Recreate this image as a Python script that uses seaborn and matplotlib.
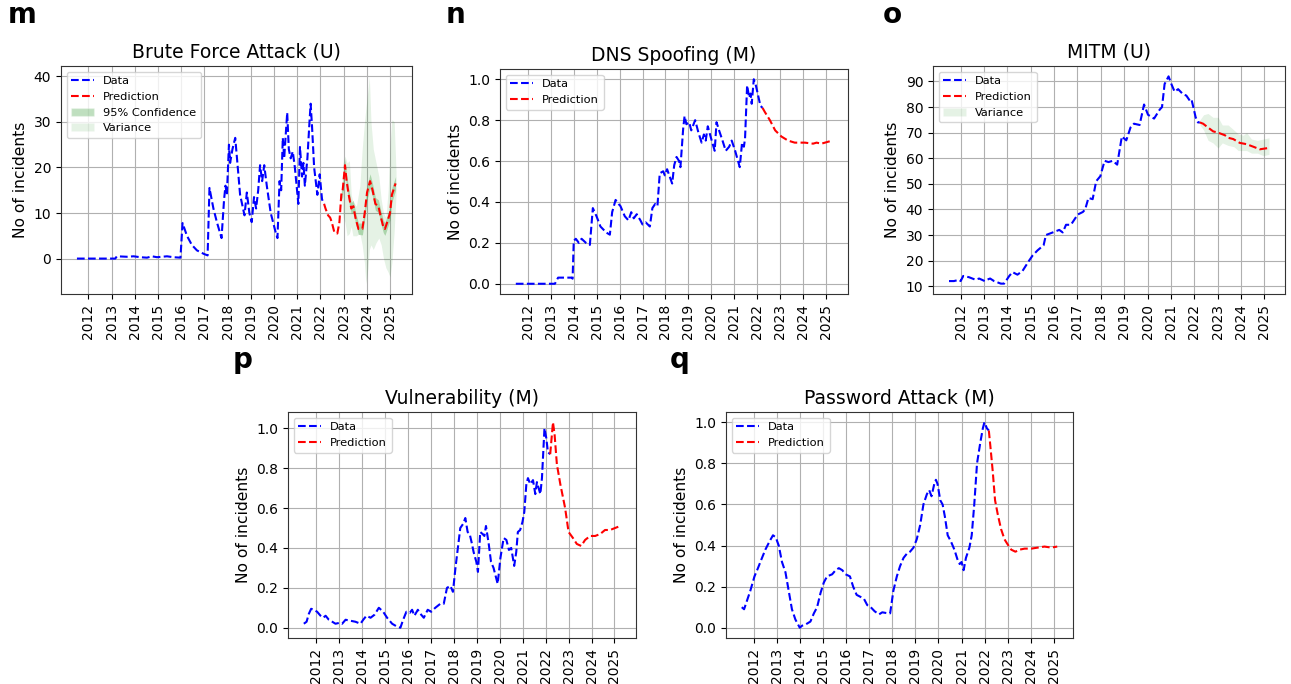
import matplotlib
matplotlib.use("Agg")
import matplotlib.pyplot as plt
import seaborn as sns
import numpy as np
from matplotlib.patches import Patch
from matplotlib.lines import Line2D

sns.set_style("ticks")
plt.rcParams["font.family"] = ["DejaVu Sans"]
plt.rcParams["text.color"] = "black"
plt.rcParams["axes.labelcolor"] = "black"
plt.rcParams["xtick.color"] = "black"
plt.rcParams["ytick.color"] = "black"

YEARS = list(range(2012, 2026))

# ---------------- m : Brute Force Attack (U) ----------------
m_data_x = [2011.51, 2013.16, 2013.23, 2013.66, 2013.95, 2014.24, 2014.53, 2014.74, 2014.96, 2015.39,
            2015.67, 2015.97, 2016.06, 2016.25, 2016.46, 2016.68, 2016.99, 2017.14, 2017.22, 2017.39,
            2017.54, 2017.74, 2017.85, 2017.91, 2017.97, 2018.06, 2018.11, 2018.21, 2018.33, 2018.44,
            2018.54, 2018.73, 2018.83, 2018.94, 2019.04, 2019.14, 2019.23, 2019.32, 2019.40, 2019.49,
            2019.58, 2019.69, 2019.86, 2020.06, 2020.15, 2020.24, 2020.31, 2020.38, 2020.44, 2020.49,
            2020.57, 2020.64, 2020.72, 2020.81, 2020.90, 2021.05, 2021.12, 2021.21, 2021.27, 2021.33,
            2021.44, 2021.53, 2021.58, 2021.64, 2021.73, 2021.87, 2021.97, 2022.07, 2022.16]
m_data_y = [0.0, 0.0, 0.5, 0.4, 0.5, 0.3, 0.2, 0.5, 0.3, 0.5,
            0.3, 0.2, 7.8, 5.0, 3.0, 1.8, 1.0, 0.7, 15.5, 11.0,
            8.0, 4.5, 13.0, 16.0, 14.0, 25.0, 21.0, 24.0, 26.5, 20.0,
            14.0, 9.5, 14.5, 10.0, 8.0, 13.5, 11.0, 15.0, 20.5, 17.0,
            20.5, 16.0, 10.0, 6.0, 4.5, 17.0, 15.0, 26.5, 22.0, 26.0,
            32.0, 24.0, 22.0, 23.5, 20.0, 12.0, 24.5, 18.0, 21.0, 16.0,
            22.0, 30.0, 34.0, 29.0, 20.0, 14.0, 18.5, 13.0, 12.0]
m_pred_x = [2022.16, 2022.22, 2022.33, 2022.42, 2022.49, 2022.60, 2022.73, 2022.82, 2022.90, 2022.96,
            2023.06, 2023.13, 2023.22, 2023.33, 2023.42, 2023.51, 2023.64, 2023.81, 2023.91, 2024.01,
            2024.14, 2024.25, 2024.37, 2024.50, 2024.61, 2024.71, 2024.78, 2024.88, 2025.00, 2025.08,
            2025.24]
m_pred_y = [12.0, 11.0, 9.5, 9.0, 8.0, 5.8, 5.5, 8.0, 14.0, 15.0,
            20.5, 17.0, 14.0, 11.0, 11.5, 9.0, 6.5, 6.5, 10.0, 14.5,
            17.0, 15.0, 12.0, 11.5, 9.0, 7.0, 6.5, 8.0, 10.0, 14.0,
            16.5]
m_conf_x = [2022.90, 2022.96, 2023.06, 2023.13, 2023.22, 2023.33, 2023.42, 2023.51, 2023.64, 2023.81,
            2023.91, 2024.01, 2024.14, 2024.25, 2024.37, 2024.50, 2024.61, 2024.71, 2024.78, 2024.88,
            2025.00, 2025.08, 2025.24]
m_conf_lo = [12.8, 13.6, 19.0, 15.6, 12.6, 9.8, 10.2, 7.8, 5.3, 5.2,
             8.6, 13.0, 15.4, 13.6, 10.6, 10.1, 7.6, 5.7, 5.1, 6.6,
             8.5, 12.4, 15.0]
m_conf_hi = [15.3, 16.4, 21.9, 18.4, 15.4, 12.3, 12.8, 10.3, 7.8, 7.8,
             11.4, 16.0, 18.6, 16.4, 13.4, 12.9, 10.4, 8.4, 7.9, 9.4,
             11.6, 15.6, 18.0]
m_var_x = [2022.92, 2022.98, 2023.06, 2023.15, 2023.25, 2023.33, 2023.40, 2023.55, 2023.70, 2023.80,
           2023.90, 2023.96, 2024.05, 2024.11, 2024.18, 2024.28, 2024.40, 2024.52, 2024.62, 2024.72,
           2024.82, 2024.92, 2025.00, 2025.08, 2025.18, 2025.26]
m_var_lo = [13, 9, 8, 5, 5.5, 7, 5, 5, 5.5, 3,
            -1, -5.5, -2, 2, 3, 2, 3.5, 4.5, 3, 0,
            -2, -3, -4, -1, 6, 14]
m_var_hi = [15, 21, 22.5, 21, 21.5, 14, 12.5, 11.5, 16, 24,
            30, 33, 37, 40, 30, 24, 21, 18, 13, 10,
            9, 15, 25, 30.5, 30, 19]

# ---------------- n : DNS Spoofing (M) ----------------
n_data_x = [2011.49, 2013.19, 2013.33, 2013.91, 2013.96, 2014.01, 2014.10, 2014.23, 2014.35, 2014.54,
            2014.71, 2014.84, 2015.00, 2015.17, 2015.43, 2015.58, 2015.68, 2015.83, 2015.96, 2016.04,
            2016.23, 2016.39, 2016.51, 2016.62, 2016.75, 2016.91, 2017.00, 2017.14, 2017.32, 2017.43,
            2017.55, 2017.65, 2017.75, 2017.90, 2017.97, 2018.07, 2018.29, 2018.38, 2018.48, 2018.59,
            2018.65, 2018.77, 2018.83, 2018.91, 2019.03, 2019.12, 2019.29, 2019.43, 2019.57, 2019.67,
            2019.75, 2019.84, 2019.96, 2020.14, 2020.22, 2020.33, 2020.48, 2020.62, 2020.77, 2020.88,
            2021.03, 2021.23, 2021.33, 2021.41, 2021.46, 2021.55, 2021.64, 2021.70, 2021.75, 2021.84,
            2021.93, 2022.01, 2022.13, 2022.22]
n_data_y = [0.0, 0.0, 0.03, 0.03, 0.025, 0.21, 0.22, 0.20, 0.22, 0.20,
            0.19, 0.37, 0.33, 0.28, 0.25, 0.24, 0.35, 0.41, 0.39, 0.38,
            0.33, 0.31, 0.35, 0.32, 0.34, 0.31, 0.29, 0.30, 0.28, 0.37,
            0.39, 0.38, 0.54, 0.55, 0.53, 0.56, 0.49, 0.58, 0.62, 0.60,
            0.57, 0.76, 0.82, 0.78, 0.79, 0.75, 0.80, 0.74, 0.69, 0.73,
            0.70, 0.77, 0.72, 0.65, 0.79, 0.75, 0.70, 0.65, 0.67, 0.70,
            0.65, 0.57, 0.69, 0.67, 0.71, 0.97, 0.91, 0.93, 0.88, 1.00,
            0.97, 0.93, 0.87, 0.86]
n_pred_x = [2022.22, 2022.32, 2022.54, 2022.77, 2023.04, 2023.33, 2023.62, 2024.06, 2024.42, 2024.57,
            2024.78, 2025.25]
n_pred_y = [0.86, 0.84, 0.80, 0.75, 0.72, 0.70, 0.69, 0.69, 0.685, 0.69,
            0.685, 0.70]

# ---------------- o : MITM (U) ----------------
o_data_x = [2011.50, 2011.71, 2011.93, 2012.00, 2012.11, 2012.36, 2012.64, 2012.79, 2013.03, 2013.12,
            2013.26, 2013.43, 2013.72, 2013.86, 2014.08, 2014.22, 2014.43, 2014.65, 2014.93, 2015.08,
            2015.29, 2015.55, 2015.65, 2015.94, 2016.22, 2016.37, 2016.51, 2016.72, 2017.01, 2017.23,
            2017.33, 2017.47, 2017.65, 2017.80, 2017.98, 2018.16, 2018.33, 2018.51, 2018.70, 2018.90,
            2019.09, 2019.27, 2019.42, 2019.66, 2019.85, 2020.02, 2020.28, 2020.52, 2020.62, 2020.73,
            2020.90, 2021.02, 2021.16, 2021.31, 2021.52, 2021.66, 2021.81, 2021.88, 2021.96, 2022.06,
            2022.16, 2022.24]
o_data_y = [12.0, 12.0, 12.5, 12.0, 14.0, 13.5, 12.5, 13.0, 12.0, 12.5,
            13.0, 12.0, 11.0, 11.0, 14.0, 15.5, 14.5, 16.0, 20.0, 22.0,
            24.0, 26.0, 30.0, 31.0, 32.0, 31.0, 34.0, 34.0, 38.0, 39.0,
            40.0, 44.5, 44.0, 51.0, 53.0, 59.0, 58.5, 59.0, 57.5, 68.5,
            67.0, 72.0, 73.5, 73.0, 81.0, 77.0, 75.5, 79.0, 80.0, 89.0,
            92.0, 89.0, 86.0, 87.0, 85.0, 84.5, 82.5, 83.0, 80.0, 76.0,
            74.0, 74.0]
o_pred_x = [2022.24, 2022.38, 2022.59, 2022.81, 2023.02, 2023.31, 2023.45, 2023.67, 2023.95, 2024.24,
            2024.53, 2024.81, 2025.17]
o_pred_y = [74.0, 73.5, 72.0, 70.5, 70.0, 69.0, 68.0, 67.5, 66.0, 65.5,
            64.5, 63.5, 64.0]
o_var_x = [2022.24, 2022.40, 2022.59, 2022.80, 2023.02, 2023.20, 2023.45, 2023.70, 2023.88, 2024.10,
           2024.24, 2024.45, 2024.70, 2024.96, 2025.20]
o_var_lo = [73, 71, 67, 66, 64, 66, 65, 64.5, 63, 63, 63, 62, 62, 61, 61.5]
o_var_hi = [75, 77, 77.5, 76, 76, 73, 73, 71, 69.5, 69, 70, 67.5, 67, 67.5, 68]

# ---------------- p : Vulnerability (M) ----------------
p_data_x = [2011.46, 2011.58, 2011.68, 2011.78, 2011.90, 2012.04, 2012.19, 2012.30, 2012.41, 2012.55,
            2012.70, 2012.84, 2013.03, 2013.13, 2013.28, 2013.49, 2013.71, 2013.93, 2014.05, 2014.19,
            2014.37, 2014.54, 2014.73, 2014.92, 2015.09, 2015.31, 2015.53, 2015.67, 2015.79, 2015.93,
            2016.08, 2016.18, 2016.28, 2016.43, 2016.54, 2016.69, 2016.86, 2017.01, 2017.19, 2017.41,
            2017.56, 2017.70, 2017.85, 2017.96, 2018.07, 2018.28, 2018.40, 2018.50, 2018.60, 2018.69,
            2018.79, 2018.86, 2018.98, 2019.05, 2019.15, 2019.25, 2019.33, 2019.40, 2019.52, 2019.62,
            2019.73, 2019.91, 2020.03, 2020.17, 2020.29, 2020.40, 2020.50, 2020.63, 2020.72, 2020.79,
            2020.89, 2020.99, 2021.07, 2021.16, 2021.23, 2021.33, 2021.45, 2021.55, 2021.62, 2021.77,
            2021.84, 2021.95, 2022.03, 2022.10, 2022.20]
p_data_y = [0.02, 0.03, 0.07, 0.095, 0.09, 0.08, 0.06, 0.05, 0.06, 0.04,
            0.03, 0.02, 0.025, 0.02, 0.04, 0.035, 0.03, 0.02, 0.04, 0.06,
            0.05, 0.065, 0.10, 0.08, 0.05, 0.02, 0.005, 0.0, 0.04, 0.08,
            0.075, 0.09, 0.06, 0.09, 0.07, 0.05, 0.09, 0.08, 0.10, 0.12,
            0.12, 0.20, 0.21, 0.18, 0.30, 0.50, 0.52, 0.55, 0.48, 0.47,
            0.42, 0.38, 0.33, 0.28, 0.48, 0.47, 0.46, 0.51, 0.42, 0.33,
            0.30, 0.22, 0.35, 0.45, 0.44, 0.39, 0.40, 0.31, 0.38, 0.48,
            0.49, 0.53, 0.58, 0.72, 0.75, 0.72, 0.74, 0.67, 0.73, 0.67,
            0.75, 1.00, 0.95, 0.88, 0.87]
p_pred_x = [2022.20, 2022.32, 2022.39, 2022.49, 2022.64, 2022.85, 2023.00, 2023.19, 2023.36, 2023.55,
            2023.72, 2023.94, 2024.16, 2024.38, 2024.59, 2024.81, 2025.03, 2025.25]
p_pred_y = [0.87, 1.03, 0.97, 0.82, 0.72, 0.60, 0.48, 0.45, 0.42, 0.41,
            0.44, 0.46, 0.46, 0.47, 0.49, 0.49, 0.50, 0.51]

# ---------------- q : Password Attack (M) ----------------
q_data_x = [2011.49, 2011.59, 2011.71, 2011.86, 2012.04, 2012.19, 2012.33, 2012.51, 2012.69, 2012.84,
            2012.96, 2013.09, 2013.23, 2013.38, 2013.52, 2013.66, 2013.81, 2014.00, 2014.10, 2014.24,
            2014.46, 2014.61, 2014.75, 2014.90, 2015.04, 2015.18, 2015.40, 2015.55, 2015.69, 2015.84,
            2015.98, 2016.17, 2016.31, 2016.46, 2016.63, 2016.78, 2016.92, 2017.07, 2017.24, 2017.43,
            2017.57, 2017.82, 2017.91, 2018.05, 2018.20, 2018.34, 2018.49, 2018.63, 2018.77, 2018.92,
            2019.06, 2019.21, 2019.35, 2019.50, 2019.60, 2019.70, 2019.82, 2019.89, 2019.96, 2020.08,
            2020.18, 2020.28, 2020.40, 2020.54, 2020.69, 2020.83, 2020.92, 2021.00, 2021.09, 2021.19,
            2021.34, 2021.44, 2021.55, 2021.67, 2021.81, 2021.92, 2021.99, 2022.10, 2022.18]
q_data_y = [0.10, 0.09, 0.13, 0.18, 0.25, 0.29, 0.33, 0.38, 0.42, 0.45,
            0.44, 0.40, 0.32, 0.27, 0.18, 0.09, 0.04, 0.00, 0.01, 0.015,
            0.03, 0.07, 0.10, 0.17, 0.22, 0.25, 0.26, 0.28, 0.29, 0.28,
            0.26, 0.25, 0.20, 0.16, 0.15, 0.14, 0.11, 0.10, 0.08, 0.065,
            0.075, 0.07, 0.07, 0.18, 0.25, 0.30, 0.34, 0.36, 0.37, 0.39,
            0.43, 0.50, 0.60, 0.65, 0.67, 0.64, 0.70, 0.72, 0.70, 0.62,
            0.60, 0.54, 0.45, 0.42, 0.38, 0.33, 0.31, 0.32, 0.28, 0.34,
            0.39, 0.45, 0.60, 0.80, 0.90, 0.97, 1.00, 0.97, 0.96]
q_pred_x = [2022.18, 2022.25, 2022.35, 2022.45, 2022.57, 2022.71, 2022.86, 2022.97, 2023.15, 2023.33,
            2023.51, 2023.73, 2024.02, 2024.30, 2024.59, 2024.88, 2025.14]
q_pred_y = [0.96, 0.88, 0.76, 0.62, 0.55, 0.48, 0.43, 0.41, 0.38, 0.37,
            0.38, 0.385, 0.385, 0.39, 0.395, 0.39, 0.395]

TITLE_FS = 13.5
TICK_FS = 10
LABEL_FS = 11.2
LEG_FS = 8.2
CONF_COLOR = "green"

fig = plt.figure(figsize=(12.91, 6.84), dpi=100)


def panel(rect, title, dx, dy, px, py, yticks, conf=None, var=None):
    ax = fig.add_axes(rect)
    handles = []
    sns.lineplot(x=dx, y=dy, ax=ax, color="blue", linestyle="--", lw=1.5,
                 sort=False, errorbar=None, legend=False)
    sns.lineplot(x=px, y=py, ax=ax, color="red", linestyle="--", lw=1.5,
                 sort=False, errorbar=None, legend=False)
    handles.append(Line2D([], [], color="blue", ls="--", lw=1.5, label="Data"))
    handles.append(Line2D([], [], color="red", ls="--", lw=1.5, label="Prediction"))
    if conf is not None:
        ax.fill_between(conf[0], conf[1], conf[2], color=CONF_COLOR, alpha=0.25, lw=0)
        handles.append(Patch(facecolor=CONF_COLOR, alpha=0.25, label="95% Confidence"))
    if var is not None:
        ax.fill_between(var[0], var[1], var[2], color=CONF_COLOR, alpha=0.1, lw=0)
        handles.append(Patch(facecolor=CONF_COLOR, alpha=0.1, label="Variance"))
    ax.set_xticks(YEARS)
    ax.set_xticklabels([str(y) for y in YEARS], rotation=90, fontsize=TICK_FS)
    ax.set_yticks(yticks)
    ax.tick_params(axis="y", labelsize=TICK_FS)
    ax.grid(True, color="#b0b0b0", lw=0.8)
    ax.set_axisbelow(True)
    ax.set_title(title, fontsize=TITLE_FS)
    ax.set_ylabel("No of incidents", fontsize=LABEL_FS)
    ax.set_xlabel("")
    for s in ax.spines.values():
        s.set_color("#333333")
    ax.legend(handles=handles, loc="upper left", fontsize=LEG_FS, framealpha=0.8)
    return ax


W, H = 1291.0, 684.0


def rect(l, t, r, b):
    return [l / W, 1 - b / H, (r - l) / W, (b - t) / H]


panel(rect(61, 66, 412, 294), "Brute Force Attack (U)", m_data_x, m_data_y, m_pred_x, m_pred_y,
      [0, 10, 20, 30, 40], conf=(m_conf_x, m_conf_lo, m_conf_hi), var=(m_var_x, m_var_lo, m_var_hi))
panel(rect(500, 69, 848, 294), "DNS Spoofing (M)", n_data_x, n_data_y, n_pred_x, n_pred_y,
      [0.0, 0.2, 0.4, 0.6, 0.8, 1.0])
panel(rect(933, 66, 1285, 294), "MITM (U)", o_data_x, o_data_y, o_pred_x, o_pred_y,
      [10, 20, 30, 40, 50, 60, 70, 80, 90], var=(o_var_x, o_var_lo, o_var_hi))
panel(rect(288, 412, 636, 638), "Vulnerability (M)", p_data_x, p_data_y, p_pred_x, p_pred_y,
      [0.0, 0.2, 0.4, 0.6, 0.8, 1.0])
panel(rect(726, 412, 1073, 638), "Password Attack (M)", q_data_x, q_data_y, q_pred_x, q_pred_y,
      [0.0, 0.2, 0.4, 0.6, 0.8, 1.0])

for letter, x, y in [("m", 8, 23), ("n", 446, 23), ("o", 883, 23), ("p", 233, 368), ("q", 670, 368)]:
    fig.text(x / W, 1 - y / H, letter, fontsize=20, fontweight="bold", va="baseline", ha="left",
             color="black")

fig.savefig("out.png", dpi=100)
